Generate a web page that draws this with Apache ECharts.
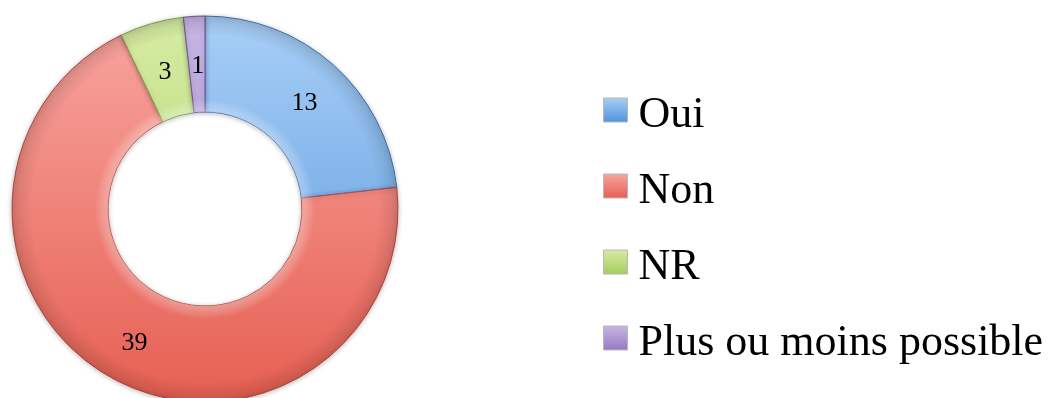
<!DOCTYPE html>
<html>
<head>
<meta charset="utf-8">
<script src="https://cdn.jsdelivr.net/npm/echarts@6/dist/echarts.min.js"></script>
<style>
  html, body { margin: 0; padding: 0; background: #ffffff; }
  #chart { width: 1055px; height: 398px; }
</style>
</head>
<body>
<div id="chart"></div>
<script>
// Answer categories and counts
const categories = ['Oui', 'Non', 'NR', 'Plus ou moins possible'];
const counts = [13, 39, 3, 1];

// Light (top) / deep (bottom) / edge shades for each category
const lightShades = ['#a8cff7', '#f8a6a0', '#d6eca4', '#c8b6e6'];
const deepShades = ['#5293da', '#e65f52', '#a6cc5e', '#9479c2'];
const edgeShades = ['#3f74b4', '#b84a44', '#86a648', '#6f559a'];

const CX = 205, CY = 209, R_IN = 97, R_OUT = 193;

function ringGradient(i) {
  return {
    type: 'linear', global: true,
    x: 0, y: CY - R_OUT, x2: 0, y2: CY + R_OUT,
    colorStops: [
      { offset: 0, color: lightShades[i] },
      { offset: 1, color: deepShades[i] }
    ]
  };
}

function swatchGradient(i) {
  return {
    type: 'linear', x: 0, y: 0, x2: 0, y2: 1,
    colorStops: [
      { offset: 0, color: lightShades[i] },
      { offset: 1, color: deepShades[i] }
    ]
  };
}

const chart = echarts.init(document.getElementById('chart'), null, { renderer: 'canvas' });

chart.setOption({
  animation: false,
  legend: {
    orient: 'vertical',
    left: 603,
    top: 83,
    padding: 0,
    icon: 'rect',
    itemWidth: 24,
    itemHeight: 24,
    itemGap: 22,
    selectedMode: false,
    formatter: '{t|{name}}',
    textStyle: {
      fontFamily: 'Liberation Serif',
      fontSize: 44,
      color: '#000000',
      rich: {
        t: {
          fontFamily: 'Liberation Serif',
          fontSize: 44,
          lineHeight: 40,
          color: '#000000',
          padding: [10, 0, 0, 6]
        }
      }
    },
    data: categories.map((name, i) => ({
      name: name,
      itemStyle: { color: swatchGradient(i), borderColor: '#b8b8b8', borderWidth: 1 }
    }))
  },
  series: [
    {
      type: 'pie',
      center: [CX, CY],
      radius: [R_IN, R_OUT],
      startAngle: 90,
      clockwise: true,
      avoidLabelOverlap: false,
      label: {
        show: true,
        position: 'inside',
        formatter: '{c}',
        fontFamily: 'Liberation Serif',
        fontSize: 26,
        color: '#000000',
        offset: [1, 5]
      },
      labelLine: { show: false },
      emphasis: { disabled: true },
      itemStyle: {
        borderWidth: 1,
        shadowBlur: 5,
        shadowColor: 'rgba(0,0,0,0.25)',
        shadowOffsetY: 1
      },
      data: categories.map((name, i) => ({
        name: name,
        value: counts[i],
        itemStyle: { color: ringGradient(i), borderColor: edgeShades[i] }
      }))
    },
    {
      // bevel shading laid over the ring
      type: 'pie',
      silent: true,
      center: [CX, CY],
      radius: [R_IN, R_OUT],
      startAngle: 90,
      clockwise: true,
      label: { show: false },
      labelLine: { show: false },
      emphasis: { disabled: true },
      legendHoverLink: false,
      itemStyle: {
        color: {
          type: 'radial', global: true, x: CX, y: CY, r: R_OUT,
          colorStops: [
            { offset: 0, color: 'rgba(255,255,255,0)' },
            { offset: 0.5, color: 'rgba(255,255,255,0.35)' },
            { offset: 0.57, color: 'rgba(255,255,255,0)' },
            { offset: 0.9, color: 'rgba(0,0,0,0)' },
            { offset: 1, color: 'rgba(0,0,0,0.12)' }
          ]
        },
        borderWidth: 0
      },
      data: categories.map((name, i) => ({ name: ' ' + name, value: counts[i] }))
    }
  ]
});
</script>
</body>
</html>
